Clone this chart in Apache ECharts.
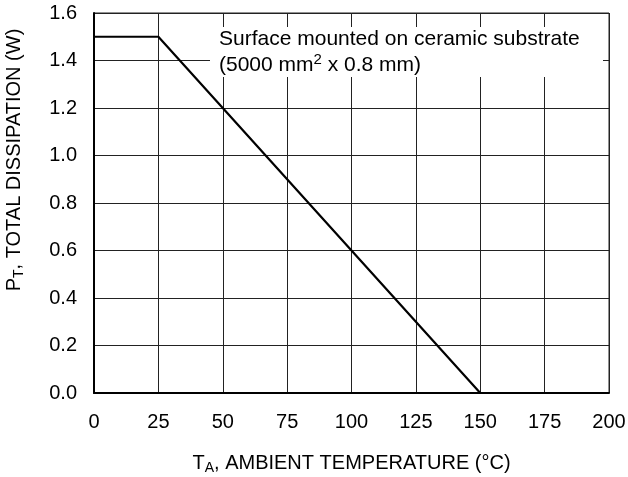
<!DOCTYPE html>
<html><head><meta charset="utf-8">
<script src="https://cdn.jsdelivr.net/npm/echarts@6/dist/echarts.min.js"></script>
<style>html,body{margin:0;padding:0;background:#fff}#c{width:628px;height:477px}</style>
</head><body><div id="c"></div>
<script>
const temps = [0, 25, 150];
const power = [1.5, 1.5, 0];
const xTicks = [0, 25, 50, 75, 100, 125, 150, 175, 200];
const yTicks = [0.0, 0.2, 0.4, 0.6, 0.8, 1.0, 1.2, 1.4, 1.6];
const noteLine1 = 'Surface mounted on ceramic substrate';
const noteLine2 = '(5000 mm{sup|2} x 0.8 mm)';
const FONT = 'Liberation Sans';
const FS = 20;
const NFS = 20;
const chart = echarts.init(document.getElementById('c'));
chart.setOption({
  animation: false,
  backgroundColor: '#fff',
  textStyle: { fontFamily: FONT, color: '#000' },
  grid: { left: 94, top: 13, width: 515, height: 380, show: true, borderColor: '#222', borderWidth: 1,
    containLabel: false, outerBoundsMode: 'none' },
  xAxis: {
    type: 'value', min: 0, max: 200, interval: 25,
    name: 'T{sub|A}, AMBIENT TEMPERATURE (°C)',
    nameLocation: 'middle', nameGap: 58,
    nameTextStyle: { fontFamily: FONT, fontSize: NFS, color: '#000',
      rich: { sub: { fontFamily: FONT, fontSize: 14, color: '#000', padding: [10, 0, 0, 0] } } },
    axisLine: { show: true, onZero: false, lineStyle: { color: '#000', width: 2 } },
    axisTick: { show: false },
    splitLine: { show: true, lineStyle: { color: '#222', width: 1 } },
    axisLabel: { fontFamily: FONT, fontSize: FS, color: '#000', margin: 19,
      formatter: v => xTicks.includes(v) ? String(v) : '' }
  },
  yAxis: {
    type: 'value', min: 0, max: 1.6, interval: 0.2,
    name: 'P{sub|T}, TOTAL DISSIPATION (W)',
    nameLocation: 'middle', nameGap: 68, nameRotate: 90,
    nameTextStyle: { fontFamily: FONT, fontSize: NFS, color: '#000', padding: [0, 0, 0, 86],
      rich: { sub: { fontFamily: FONT, fontSize: 14, color: '#000', padding: [10, 0, 0, 0] } } },
    axisLine: { show: true, onZero: false, lineStyle: { color: '#000', width: 2 } },
    axisTick: { show: false },
    splitLine: { show: true, lineStyle: { color: '#222', width: 1 } },
    axisLabel: { fontFamily: FONT, fontSize: FS, color: '#000', margin: 17,
      formatter: v => { const t = yTicks.find(y => Math.abs(y - v) < 1e-9); return t === undefined ? '' : t.toFixed(1); } }
  },
  graphic: [
    { type: 'rect', z: 1, shape: { x: 210, y: 27, width: 393, height: 50 }, style: { fill: '#fff' } },
    { type: 'text', z: 2, left: 219, top: 26, style: {
        text: noteLine1 + '\n' + noteLine2,
        font: '21px "' + FONT + '"', fill: '#000', lineHeight: 26,
        rich: { sup: { fontFamily: FONT, fontSize: 15, fill: '#000', verticalAlign: 'top', padding: [0, 0, 8, 0] } }
    } }
  ],
  series: [{
    type: 'line', data: temps.map((t, i) => [t, power[i]]),
    showSymbol: false, symbol: 'none', z: 3,
    lineStyle: { color: '#000', width: 2.2 }
  }]
});
</script></body></html>
